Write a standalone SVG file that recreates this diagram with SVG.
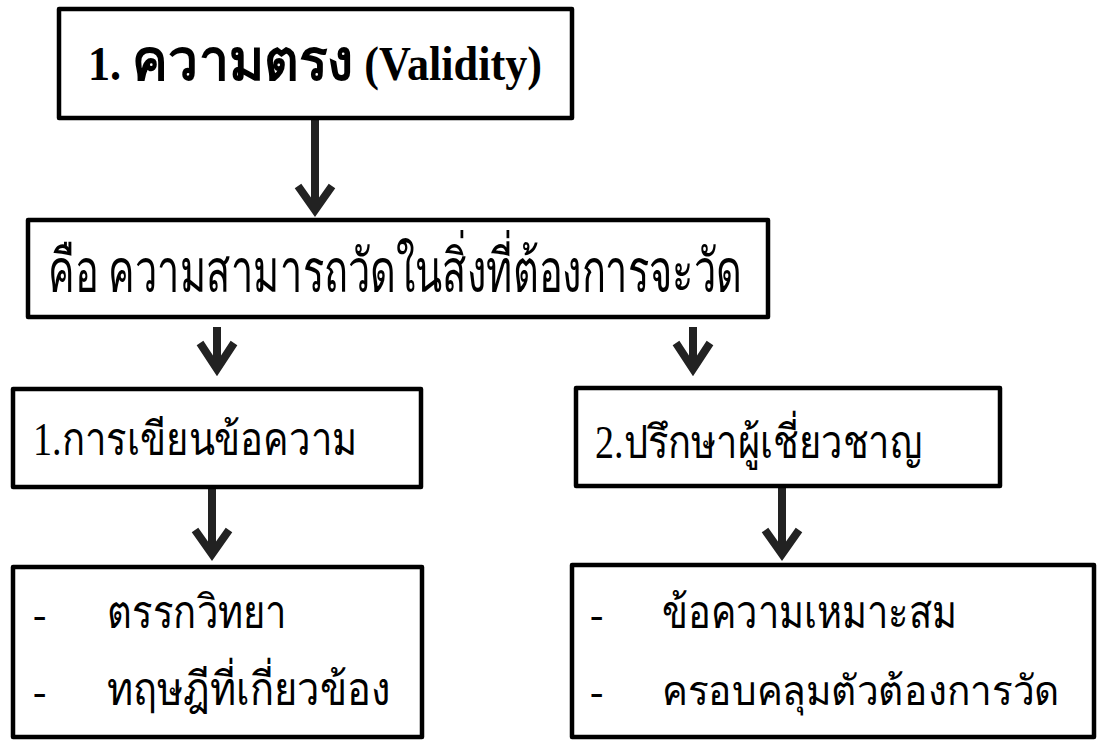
<svg xmlns="http://www.w3.org/2000/svg" width="1097" height="740" viewBox="0 0 1097 740">
<style>
.box{fill:#fff;stroke:#000;stroke-width:4.5;stroke-linejoin:round}
.t{font-family:"Liberation Serif","Noto Sans",serif;fill:#000}
.arr{fill:none;stroke:#222;stroke-width:8;stroke-linejoin:miter;stroke-linecap:butt}
</style>
<rect width="1097" height="740" fill="#fff"/>
<g id="connectors">
<path class="arr" d="M315,120 V208 M298,186 L315,210 L332,186"/>
<path class="arr" d="M217,327 V368 M200,343 L217,369 L234,343"/>
<path class="arr" d="M693,327 V368 M676,343 L693,369 L710,343"/>
<path class="arr" d="M212,489 V553 M195,530 L212,554 L229,530"/>
<path class="arr" d="M782,488 V553 M765,530 L782,554 L799,530"/>
</g>
<g id="n1">
<rect class="box" x="59" y="9" width="513" height="109"/>
<text class="t" x="88" y="80" font-size="48" font-weight="bold" textLength="454" lengthAdjust="spacingAndGlyphs">1. <tspan font-size="58">ความตรง</tspan> (Validity)</text>
</g>
<g id="n2">
<rect class="box" x="28" y="220" width="740" height="97"/>
<text class="t" x="48" y="292" font-size="60" textLength="694" lengthAdjust="spacingAndGlyphs">คือ ความสามารถวัดในสิ่งที่ต้องการจะวัด</text>
</g>
<g id="n3">
<rect class="box" x="13" y="389" width="408" height="98"/>
<text class="t" x="33" y="455" font-size="46" textLength="324" lengthAdjust="spacingAndGlyphs">1.การเขียนข้อความ</text>
</g>
<g id="n4">
<rect class="box" x="576" y="388" width="424" height="98"/>
<text class="t" x="595" y="458" font-size="46" textLength="327" lengthAdjust="spacingAndGlyphs">2.ปรึกษาผู้เชี่ยวชาญ</text>
</g>
<g id="n5">
<rect class="box" x="13" y="567" width="409" height="170"/>
<text class="t" x="33" y="628" font-size="40">-</text>
<text class="t" x="107" y="628" font-size="46" textLength="180" lengthAdjust="spacingAndGlyphs">ตรรกวิทยา</text>
<text class="t" x="33" y="705" font-size="40">-</text>
<text class="t" x="107" y="705" font-size="46" textLength="283" lengthAdjust="spacingAndGlyphs">ทฤษฎีที่เกี่ยวข้อง</text>
</g>
<g id="n6">
<rect class="box" x="572" y="565" width="522" height="172"/>
<text class="t" x="590" y="628" font-size="40">-</text>
<text class="t" x="662" y="628" font-size="46" textLength="295" lengthAdjust="spacingAndGlyphs">ข้อความเหมาะสม</text>
<text class="t" x="590" y="705" font-size="40">-</text>
<text class="t" x="662" y="705" font-size="41" textLength="398" lengthAdjust="spacingAndGlyphs">ครอบคลุมตัวต้องการวัด</text>
</g>
</svg>
